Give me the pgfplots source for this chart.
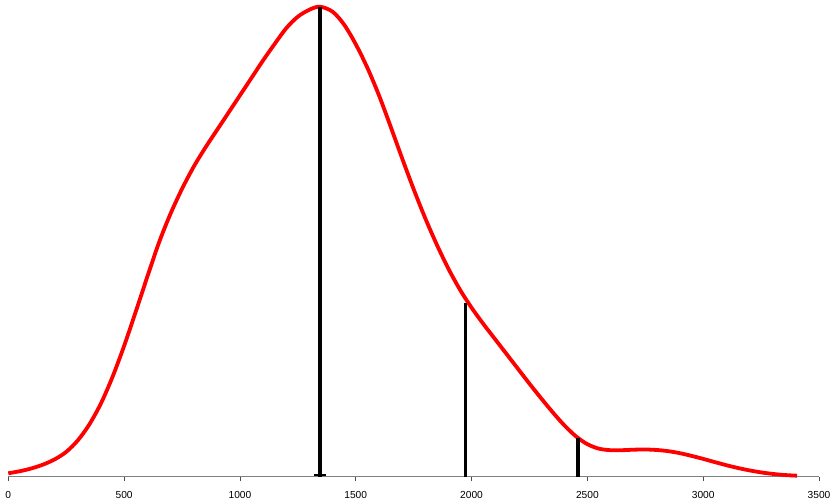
\documentclass[border=0pt]{standalone}
\usepackage{fontspec}
\setmainfont{Liberation Sans}
\usepackage{pgfplots}
\pgfplotsset{compat=1.18}
\begin{document}
\begin{tikzpicture}
\begin{axis}[
  name=ax,
  scale only axis,
  width=810.7pt, height=476.7pt,
  xmin=0, xmax=3500, ymin=0, ymax=476.7,
  axis x line*=bottom,
  axis y line=none,
  x axis line style={draw=gray, line width=1.4pt},
  xtick={0,500,...,3500},
  xtick style={draw=black!70, line width=0.8pt},
  tick align=outside,
  major tick length=4.5pt,
  /pgf/number format/assume math mode=true,
  /pgf/number format/1000 sep={},
  xticklabel style={font=\fontsize{10.2}{12}\selectfont, inner sep=0pt, yshift=-10pt},
  clip=false,
]
\addplot[red, line width=3.8pt, smooth, tension=0.5] coordinates {
(0,3.4) (50,5.5) (100,8.3) (150,12.1) (200,17.3) (250,24.8) (300,36.3)
(350,52.3) (400,73.3) (450,99.8) (500,130.8) (550,164.8) (600,199.8)
(650,233.8) (700,262.8) (750,287.8) (800,309.8) (850,328.8) (900,346.3)
(950,363.8) (1000,381.3) (1050,398.8) (1100,416.3) (1150,432.8)
(1200,448.5) (1250,460) (1300,467) (1345,470)
(1400,465) (1450,452) (1500,432.5) (1550,409) (1600,381.5) (1650,350.5)
(1700,318.5) (1750,287.5) (1800,258.5) (1850,232) (1900,208) (1950,187)
(2000,169) (2050,153) (2100,138) (2150,123) (2200,108) (2250,93)
(2300,78.5) (2350,64.5) (2400,51.5) (2450,40.5) (2500,32.5) (2550,28)
(2600,26.5) (2650,26.5) (2700,27) (2750,27.2) (2800,26.7) (2850,25.5)
(2900,23.5) (2950,20.8) (3000,17.8) (3050,14.6) (3100,11.5) (3150,8.7)
(3200,6.3) (3250,4.3) (3300,2.8) (3350,1.7) (3405,1)
};
\addplot[ycomb, black, line width=4pt, no marks] coordinates {(1345,470)};
\addplot[ycomb, black, line width=3.3pt, no marks] coordinates {(1975,173.4) (2460,38.4)};
\addplot[only marks, mark=-, mark size=6pt, black, line width=2pt] coordinates {(1345,1.2)};
\end{axis}
\path[use as bounding box] ([shift={(-8.3pt,-25.3pt)}]ax.south west) rectangle ([shift={(15pt,0pt)}]ax.north east);
\end{tikzpicture}
\end{document}
